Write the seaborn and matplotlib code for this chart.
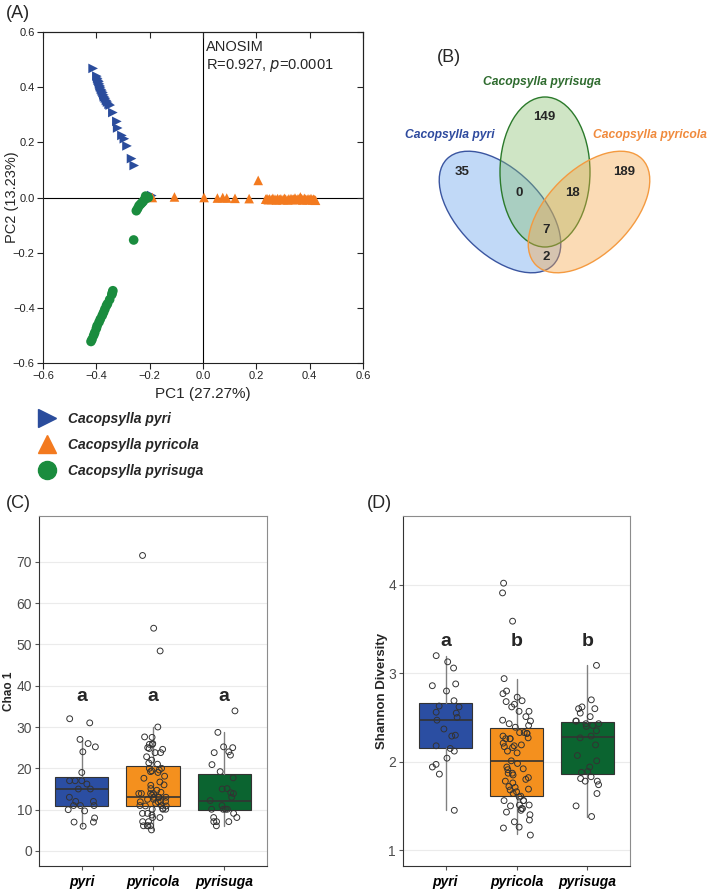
import numpy as np
import pandas as pd
import matplotlib.pyplot as plt
from matplotlib.patches import Ellipse
from matplotlib.lines import Line2D
import seaborn as sns

sns.set_style('white')
plt.rcParams['font.family'] = ['Liberation Sans', 'DejaVu Sans']

# ---- data -------------------------------------------------------------
species = ['Cacopsylla pyri', 'Cacopsylla pyricola', 'Cacopsylla pyrisuga']
short_names = ['pyri', 'pyricola', 'pyrisuga']

# (A) PCoA scores
pyri_pc1 = [-0.412, -0.398, -0.395, -0.393, -0.390, -0.388, -0.386, -0.384, -0.381,
            -0.378, -0.375, -0.372, -0.370, -0.366, -0.362, -0.358, -0.352, -0.348,
            -0.338, -0.323, -0.320, -0.304, -0.295, -0.285, -0.268, -0.258, -0.192]
pyri_pc2 = [0.468, 0.440, 0.432, 0.425, 0.420, 0.412, 0.405, 0.400, 0.392,
            0.386, 0.380, 0.372, 0.365, 0.360, 0.352, 0.346, 0.338, 0.335,
            0.308, 0.276, 0.252, 0.225, 0.213, 0.187, 0.141, 0.116, 0.007]

pyricola_pc1 = [-0.190, -0.107, 0.004, 0.054, 0.074, 0.089, 0.120, 0.173, 0.207,
                0.235, 0.240, 0.245, 0.250, 0.258, 0.262, 0.270, 0.275, 0.280,
                0.287, 0.292, 0.300, 0.305, 0.310, 0.318, 0.322, 0.330, 0.335,
                0.340, 0.345, 0.350, 0.356, 0.360, 0.365, 0.370, 0.374, 0.380,
                0.385, 0.390, 0.394, 0.400, 0.405, 0.410, 0.414, 0.418, 0.422]
pyricola_pc2 = [0.000, 0.002, 0.000, -0.002, 0.000, -0.002, -0.003, -0.004, 0.062,
                -0.006, -0.004, -0.008, -0.005, -0.007, -0.003, -0.006, -0.009, -0.004,
                -0.007, -0.005, -0.008, -0.003, -0.006, -0.009, -0.005, -0.004, -0.007,
                -0.006, -0.002, -0.008, -0.005, -0.006, 0.002, -0.004, -0.009, -0.003,
                -0.006, -0.008, -0.005, -0.007, -0.004, -0.009, -0.006, -0.008, -0.010]

pyrisuga_pc1 = [-0.205, -0.215, -0.210, -0.220, -0.225, -0.230, -0.235, -0.240, -0.245,
                -0.250, -0.260, -0.338, -0.340, -0.342, -0.350, -0.358, -0.362, -0.368,
                -0.373, -0.378, -0.385, -0.390, -0.397, -0.400, -0.406, -0.410, -0.416,
                -0.420]
pyrisuga_pc2 = [0.000, 0.005, -0.002, -0.008, -0.015, -0.020, -0.025, -0.030, -0.040,
                -0.048, -0.154, -0.338, -0.345, -0.352, -0.370, -0.385, -0.392, -0.405,
                -0.417, -0.428, -0.441, -0.452, -0.465, -0.475, -0.490, -0.500, -0.514,
                -0.522]

# (B) shared / unique ASVs
venn_regions = ['pyri', 'pyrisuga', 'pyricola', 'pyri&pyrisuga',
                'pyrisuga&pyricola', 'all', 'pyri&pyricola']
venn_counts = [35, 149, 189, 0, 18, 7, 2]

# (C) Chao 1
chao_pyri = [32.0, 31.0, 27.0, 26.0, 25.2, 24.0, 19.0, 17.0, 17.0, 17.0, 16.2, 15.0,
             15.0, 13.0, 12.0, 12.0, 11.0, 11.0, 11.0, 10.0, 9.7, 8.0, 7.0, 6.0, 7.0]
chao_pyricola = [71.5, 53.9, 48.4, 30.0, 27.5, 27.6, 26.0, 25.8, 25.8, 24.8, 24.6, 23.8,
                 25.0, 23.8, 22.8, 22.0, 21.3, 21.0, 20.0, 19.4, 19.6, 19.2, 18.1, 17.6,
                 16.7, 15.9, 15.1, 14.7, 13.9, 13.9, 13.9, 13.9, 13.0, 13.0, 13.0, 13.0,
                 11.9, 11.9, 12.5, 11.5, 10.9, 10.9, 10.1, 10.1, 10.1, 10.3, 9.1, 9.1,
                 8.7, 8.1, 8.1, 7.1, 7.1, 6.1, 6.1, 6.1, 6.1, 5.1, 12.0, 11.0, 12.5,
                 13.5, 14.2, 16.0, 19.0, 20.0, 12.0, 11.0]
chao_pyrisuga = [33.9, 28.7, 25.2, 25.0, 23.2, 23.8, 24.0, 20.9, 19.2, 17.7, 15.0, 15.1,
                 14.1, 13.9, 13.0, 12.2, 11.0, 10.1, 10.1, 10.1, 10.1, 9.1, 8.1, 8.1,
                 7.1, 7.1, 7.1, 6.1]
chao_q1 = [11.0, 10.9, 10.0]
chao_med = [14.9, 13.0, 12.0]
chao_q3 = [18.0, 20.5, 18.7]
chao_lo = [6.0, 5.1, 6.0]
chao_hi = [26.8, 30.0, 28.8]
chao_letters = ['a', 'a', 'a']

# (D) Shannon diversity
shan_pyri = [3.13, 3.20, 3.06, 2.88, 2.86, 2.80, 2.69, 2.62, 2.63, 2.56, 2.55, 2.50,
             2.47, 2.37, 2.29, 2.30, 2.18, 2.15, 2.12, 2.04, 1.97, 1.94, 1.86, 1.45]
shan_pyricola = [4.02, 3.91, 3.59, 2.94, 2.80, 2.77, 2.73, 2.69, 2.65, 2.68, 2.62, 2.57,
                 2.57, 2.46, 2.43, 2.47, 2.51, 2.41, 2.39, 2.33, 2.32, 2.33, 2.32, 2.29,
                 2.26, 2.26, 2.26, 2.27, 2.21, 2.19, 2.17, 2.16, 2.18, 2.12, 2.10, 1.98,
                 2.01, 1.92, 1.94, 1.91, 1.87, 1.85, 1.87, 1.82, 1.80, 1.78, 1.76, 1.72,
                 1.71, 1.68, 1.66, 1.69, 1.64, 1.61, 1.60, 1.56, 1.56, 1.56, 1.51, 1.51,
                 1.50, 1.47, 1.47, 1.45, 1.43, 1.40, 1.34, 1.32, 1.26, 1.25, 1.17]
shan_pyrisuga = [3.09, 2.70, 2.60, 2.60, 2.62, 2.55, 2.51, 2.46, 2.43, 2.40, 2.43, 2.46,
                 2.41, 2.35, 2.29, 2.27, 2.19, 2.07, 2.01, 1.94, 1.88, 1.89, 1.83, 1.81,
                 1.78, 1.78, 1.74, 1.64, 1.50, 1.38]
shan_q1 = [2.16, 1.61, 1.86]
shan_med = [2.47, 2.01, 2.28]
shan_q3 = [2.66, 2.38, 2.45]
shan_lo = [1.45, 1.18, 1.38]
shan_hi = [3.20, 2.94, 3.09]
shan_letters = ['a', 'b', 'b']

# ---- styles -------------------------------------------------------------
W, H = 709, 889
def fx(px): return px / W
def fy(py): return 1 - py / H

sp_colors = dict(zip(species, ['#2A4C9C', '#F37A1F', '#1A8C3E']))
sp_markers = dict(zip(species, ['>', '^', 'o']))
box_colors = ['#2B4EA2', '#F4901E', '#0B6430']
bi = {'weight': 'bold', 'style': 'italic'}

fig = plt.figure(figsize=(W / 100, H / 100), dpi=100)

# ---- (A) PCoA -----------------------------------------------------------
pca = pd.DataFrame({
    'PC1': pyri_pc1 + pyricola_pc1 + pyrisuga_pc1,
    'PC2': pyri_pc2 + pyricola_pc2 + pyrisuga_pc2,
    'species': [species[0]] * len(pyri_pc1) + [species[1]] * len(pyricola_pc1)
               + [species[2]] * len(pyrisuga_pc1),
})
axA = fig.add_axes([fx(43), fy(363), 320 / W, 331 / H])
axA.axhline(0, color='black', lw=0.8, zorder=0)
axA.axvline(0, color='black', lw=0.8, zorder=0)
sns.scatterplot(data=pca, x='PC1', y='PC2', hue='species', style='species',
                hue_order=species[::-1], style_order=species, palette=sp_colors,
                markers=sp_markers, s=48, linewidth=0, legend=False, ax=axA)
ticks = np.round(np.arange(-0.6, 0.61, 0.2), 1)
labels = [f'{t:.1f}'.replace('-', '\u2212') for t in ticks]
axA.set_xlim(-0.6, 0.6)
axA.set_ylim(-0.6, 0.6)
axA.set_xticks(ticks, labels)
axA.set_yticks(ticks, labels)
axA.tick_params(direction='out', length=4, width=0.8, labelsize=8, colors='#222222',
                left=True, bottom=True, pad=2)
for s in axA.spines.values():
    s.set_color('#222222')
    s.set_linewidth(0.8)
top = axA.secondary_xaxis('top')
top.set_xticks(ticks, [])
top.tick_params(direction='in', length=4, width=0.8)
right = axA.secondary_yaxis('right')
right.set_yticks(ticks, [])
right.tick_params(direction='in', length=4, width=0.8)
axA.set_xlabel('PC1 (27.27%)', fontsize=11, labelpad=4)
axA.set_ylabel('PC2 (13.23%)', fontsize=10.5)
axA.yaxis.set_label_coords(-0.074, 0.5)
axA.text(0.012, 0.57, 'ANOSIM\nR=0.927, $\\it{p}$=0.0001', fontsize=10.5,
         va='top', ha='left', linespacing=1.25)
fig.text(fx(18), fy(14), '(A)', fontsize=13, ha='center', va='center')

handles = [Line2D([], [], marker=sp_markers[s], color=sp_colors[s], linestyle='none',
                  markersize=13) for s in species]
fig.legend(handles, species, loc='upper left', bbox_to_anchor=(fx(40), fy(412)),
           frameon=False, prop={**bi, 'size': 10}, handlelength=1.0,
           handletextpad=1.0, labelspacing=0.85, borderpad=0, borderaxespad=0)

# ---- (B) Venn -----------------------------------------------------------
axB = fig.add_axes([fx(395), fy(290), 314 / W, 250 / H])
axB.set_xlim(395, 709)
axB.set_ylim(290, 40)
axB.axis('off')
venn_shapes = [((500, 212), 150, 84, 45, '#66A0ED', '#3A55A0'),
               ((545, 172), 90, 150, 0, '#87BE70', '#2B7A2B'),
               ((589, 212), 150, 84, -45, '#F7A546', '#F49A40')]
for (c, w, h, ang, fc, ec) in venn_shapes:
    axB.add_patch(Ellipse(c, w, h, angle=ang, facecolor=fc, alpha=0.4, lw=0))
    axB.add_patch(Ellipse(c, w, h, angle=ang, facecolor='none', edgecolor=ec, lw=1))
venn_pos = [(462, 172), (544, 117), (624, 172), (519, 193), (572, 193),
            (546, 230), (546, 257)]
for n, (x, y) in zip(venn_counts, venn_pos):
    axB.text(x, y, str(n), fontsize=9.5, fontweight='bold', ha='center', va='center')
axB.text(542, 82, species[2], color='#2E6B2E', fontsize=8.7, ha='center', va='center', **bi)
axB.text(405, 135, species[0], color='#2E4A9E', fontsize=8.7, ha='left', va='center', **bi)
axB.text(593, 135, species[1], color='#F08A3C', fontsize=8.7, ha='left', va='center',
         clip_on=False, **bi)
axB.text(449, 57, '(B)', fontsize=13, ha='center', va='center')


# ---- (C) & (D) boxplots -------------------------------------------------
def box_panel(rect, groups, q1, med, q3, lo, hi, letters, letter_y, ylim, yticks,
              ylabel, ylabel_size, ylabel_x):
    ax = fig.add_axes(rect)
    stats = [{'med': m, 'q1': a, 'q3': b, 'whislo': l, 'whishi': u, 'fliers': []}
             for m, a, b, l, u in zip(med, q1, q3, lo, hi)]
    bp = ax.bxp(stats, positions=[0, 1, 2], widths=0.75, patch_artist=True,
                showfliers=False, showcaps=False,
                boxprops={'edgecolor': '#333333', 'linewidth': 0.8},
                medianprops={'color': '#333333', 'linewidth': 1.2},
                whiskerprops={'color': '#808080', 'linewidth': 1.0})
    for patch, col in zip(bp['boxes'], box_colors):
        patch.set_facecolor(col)
    df = pd.DataFrame({'group': sum([[g] * len(v) for g, v in zip(short_names, groups)], []),
                       'value': sum(groups, [])})
    sns.stripplot(data=df, x='group', y='value', order=short_names, jitter=0.2,
                  size=4.2, facecolor='none', edgecolor='#333333', linewidth=0.7,
                  ax=ax, zorder=3)
    for i, t in enumerate(letters):
        ax.text(i, letter_y, t, fontsize=14, fontweight='bold', ha='center', va='center')
    ax.set_xlim(-0.6, 2.6)
    ax.set_ylim(*ylim)
    ax.set_yticks(yticks)
    ax.set_xticks([0, 1, 2], short_names)
    for lab in ax.get_xticklabels():
        lab.set_fontweight('bold')
        lab.set_fontstyle('italic')
    ax.yaxis.grid(True, color='#EBEBEB', lw=0.8)
    ax.xaxis.grid(False)
    ax.set_axisbelow(True)
    ax.tick_params(axis='y', labelsize=10, labelcolor='#4D4D4D', length=3,
                   color='#555555', left=True, pad=2)
    ax.tick_params(axis='x', labelsize=10, labelcolor='black', length=3,
                   color='#555555', bottom=True)
    for k, s in ax.spines.items():
        s.set_linewidth(0.8)
        s.set_color('#333333' if k in ('left', 'bottom') else '#8C8C8C')
    ax.set_xlabel('')
    ax.set_ylabel(ylabel, fontsize=ylabel_size, fontweight='bold')
    ax.yaxis.set_label_coords(ylabel_x, 0.5)
    return ax


np.random.seed(7)
box_panel([fx(39), fy(866), 228 / W, 350 / H],
          [chao_pyri, chao_pyricola, chao_pyrisuga],
          chao_q1, chao_med, chao_q3, chao_lo, chao_hi, chao_letters, 37.4,
          (-3.63, 81.05), range(0, 71, 10), 'Chao 1', 8.5, -0.105)
fig.text(fx(18), fy(503), '(C)', fontsize=13, ha='center', va='center')

box_panel([fx(403), fy(866), 227 / W, 350 / H],
          [shan_pyri, shan_pyricola, shan_pyrisuga],
          shan_q1, shan_med, shan_q3, shan_lo, shan_hi, shan_letters, 3.36,
          (0.82, 4.78), [1, 2, 3, 4], 'Shannon Diversity', 9.5, -0.068)
fig.text(fx(379), fy(503), '(D)', fontsize=13, ha='center', va='center')

fig.savefig('out.png', dpi=100)
